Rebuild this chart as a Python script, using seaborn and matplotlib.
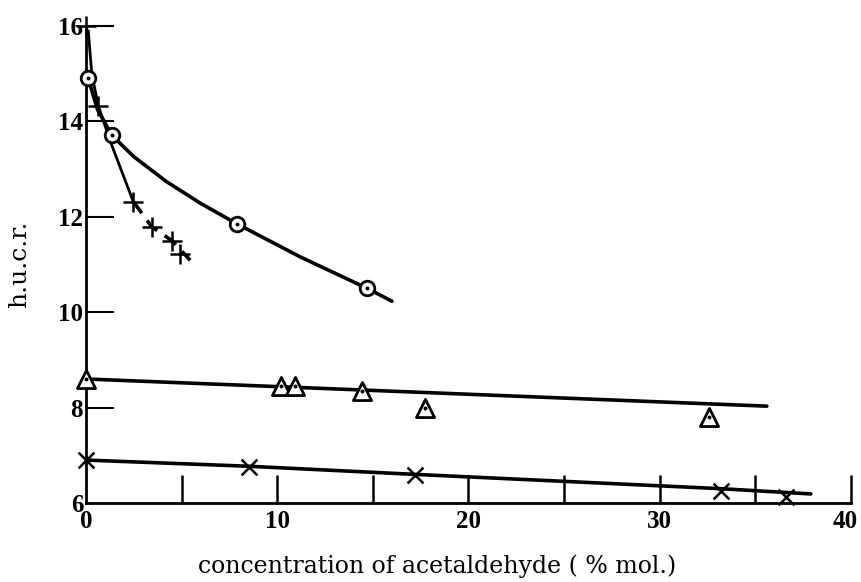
import matplotlib
matplotlib.use("Agg")
import matplotlib.pyplot as plt
import matplotlib.transforms as mtransforms
import seaborn as sns

sns.set_theme(style="white")
plt.rcParams["font.family"] = ["DejaVu Serif"]

# measured points (concentration % mol., h.u.c.r.)
circle_x = [0.1, 1.35, 7.9, 14.7]
circle_y = [14.92, 13.71, 11.85, 10.50]
# hand-drawn curve through the circle points
circle_curve_x = [0.1, 0.6, 1.35, 2.5, 4.2, 6.0, 7.9, 11.2, 14.7, 16.0]
circle_curve_y = [14.92, 14.25, 13.71, 13.26, 12.74, 12.28, 11.85, 11.16, 10.50, 10.23]

plus_x = [0.0, 0.64, 2.47, 3.44, 4.49, 4.92]
plus_y = [16.0, 14.33, 12.32, 11.79, 11.50, 11.23]
plus_curve_x = [0.12, 0.3, 0.64, 1.3, 2.47]
plus_curve_y = [15.9, 15.0, 14.33, 13.55, 12.32]
plus_dash_x = [2.47, 3.44, 4.49, 5.45]
plus_dash_y = [12.32, 11.79, 11.50, 11.09]

tri_x = [0.0, 10.2, 10.94, 14.43, 17.7, 32.6]
tri_y = [8.59, 8.45, 8.45, 8.35, 8.0, 7.8]
tri_line_x = [0.0, 35.6]
tri_line_y = [8.60, 8.03]

cross_x = [0.0, 8.53, 17.2, 33.2, 36.6]
cross_y = [6.90, 6.75, 6.59, 6.26, 6.13]
cross_line_x = [0.0, 8.53, 17.2, 33.2, 37.9]
cross_line_y = [6.90, 6.77, 6.60, 6.30, 6.19]

x_ticks = [0, 10, 20, 30, 40]
x_minor = [5, 15, 25, 35]
y_ticks = [6, 8, 10, 12, 14, 16]

fig = plt.figure(figsize=(8.62, 5.82), dpi=100)
ax = fig.add_axes([86 / 862, 1 - 503 / 582, (851 - 86) / 862, (503 - 26) / 582])

lw = 2.6
k = "black"
sns.lineplot(x=circle_curve_x, y=circle_curve_y, ax=ax, color=k, lw=lw, sort=False)
sns.lineplot(x=plus_curve_x, y=plus_curve_y, ax=ax, color=k, lw=2.0, sort=False)
ax.plot(plus_dash_x, plus_dash_y, color=k, lw=2.6, dashes=(4, 2.5))
sns.lineplot(x=tri_line_x, y=tri_line_y, ax=ax, color=k, lw=lw, sort=False)
sns.lineplot(x=cross_line_x, y=cross_line_y, ax=ax, color=k, lw=lw, sort=False)

# circle markers with a centre dot
sns.scatterplot(x=circle_x, y=circle_y, ax=ax, marker="o", s=110, facecolor="white",
                edgecolor=k, linewidth=2.0, zorder=5, clip_on=False)
sns.scatterplot(x=circle_x, y=circle_y, ax=ax, marker="o", s=8, color=k,
                linewidth=0, zorder=6, clip_on=False)
# triangle markers with a centre dot
sns.scatterplot(x=tri_x, y=tri_y, ax=ax, marker="^", s=170, facecolor="white",
                edgecolor=k, linewidth=2.0, zorder=5, clip_on=False)
sns.scatterplot(x=tri_x, y=tri_y, ax=ax, marker="o", s=8, color=k,
                linewidth=0, zorder=6, clip_on=False)
sns.scatterplot(x=plus_x, y=plus_y, ax=ax, marker="+", s=200, color=k,
                linewidth=1.8, zorder=5, clip_on=False)
sns.scatterplot(x=cross_x, y=cross_y, ax=ax, marker="x", s=130, color=k,
                linewidth=1.8, zorder=5, clip_on=False)

ax.set_xlim(0, 40)
ax.set_ylim(6, 16)
for s in ["top", "right"]:
    ax.spines[s].set_visible(False)
for s in ["left", "bottom"]:
    ax.spines[s].set_color(k)
    ax.spines[s].set_linewidth(2.0)

tick_font = dict(fontsize=18, fontweight="bold", fontfamily="Liberation Serif", color=k)
ax.set_xticks(x_ticks)
ax.set_xticklabels([str(v) for v in x_ticks], **tick_font)
ax.set_xticks(x_minor, minor=True)
ax.set_yticks(y_ticks)
ax.set_yticklabels([str(v) for v in y_ticks], **tick_font)
ax.tick_params(axis="x", which="both", bottom=True, direction="in", length=20, width=1.8,
               color=k, pad=5)
ax.tick_params(axis="y", left=True, direction="in", length=20, width=1.5, color=k, pad=2)
ax.yaxis.get_major_ticks()[0].tick1line.set_visible(False)
ax.xaxis.get_major_ticks()[0].tick1line.set_visible(False)
# nudge the last x label inward so it stays on the canvas
last = ax.get_xticklabels()[-1]
last.set_transform(last.get_transform()
                   + mtransforms.ScaledTranslation(-0.06, 0, fig.dpi_scale_trans))

ax.set_xlabel("concentration of acetaldehyde ( % mol.)", fontsize=17, color=k)
ax.xaxis.set_label_coords((437 - 86) / 765, -0.108)
ax.set_ylabel("h.u.c.r.", fontsize=18, color=k)
ax.yaxis.set_label_coords(-0.072, 0.5)

fig.savefig("out.png", dpi=100)
